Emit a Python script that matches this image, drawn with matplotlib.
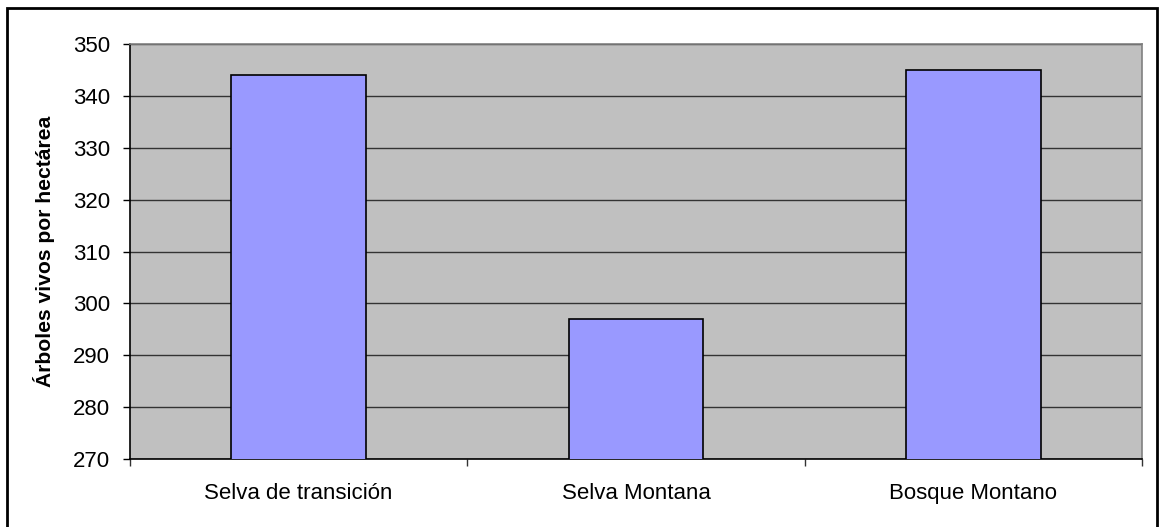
import matplotlib
matplotlib.use("Agg")
import matplotlib.pyplot as plt
from matplotlib.patches import Rectangle

categories = ["Selva de transición", "Selva Montana", "Bosque Montano"]
values = [344, 297, 345]
yticks = [270, 280, 290, 300, 310, 320, 330, 340, 350]

plt.rcParams['font.family'] = ['Liberation Sans', 'DejaVu Sans']

W, H = 1162, 527
fig = plt.figure(figsize=(W / 100, H / 100), dpi=100)
fig.patch.set_facecolor("white")

# plot area in pixel coordinates
left, right, top, bottom = 130, 1142, 44, 459
ax = fig.add_axes([left / W, 1 - bottom / H, (right - left) / W, (bottom - top) / H])
ax.set_facecolor("#C0C0C0")

x = list(range(len(categories)))
ax.bar(x, values, width=0.4, color="#9999FF", edgecolor="black", linewidth=1.2, zorder=3)
ax.set_xlim(-0.5, len(categories) - 0.5)
ax.set_ylim(yticks[0], yticks[-1])
ax.set_yticks(yticks)
ax.yaxis.grid(True, color="#333333", linewidth=1.0, zorder=1)
ax.set_axisbelow(True)

# category labels between boundary ticks
ax.set_xticks([i + 0.5 for i in range(-1, len(categories))])
ax.set_xticklabels([])
ax.set_xticks(x, minor=True)
ax.set_xticklabels(categories, minor=True, fontsize=16)
ax.tick_params(axis="x", which="minor", length=0, pad=17)
ax.tick_params(axis="x", which="major", length=5, width=1, color="#333333", direction="out")
ax.tick_params(axis="y", length=5, width=1, color="black", labelsize=16, pad=9.4)

for side in ("left", "bottom"):
    ax.spines[side].set_color("black")
    ax.spines[side].set_linewidth(1.2)
for side in ("top", "right"):
    ax.spines[side].set_color("#808080")
    ax.spines[side].set_linewidth(1.2)

ax.set_ylabel("Árboles vivos por hectárea", fontsize=15.2, fontweight="bold", labelpad=13)

# outer chart border
fig.patches.append(Rectangle((7 / W, -0.02), (1157 - 7) / W, 1 - 8 / H + 0.02,
                             transform=fig.transFigure, fill=False,
                             edgecolor="black", linewidth=2.0))

fig.savefig("out.png", dpi=100)
